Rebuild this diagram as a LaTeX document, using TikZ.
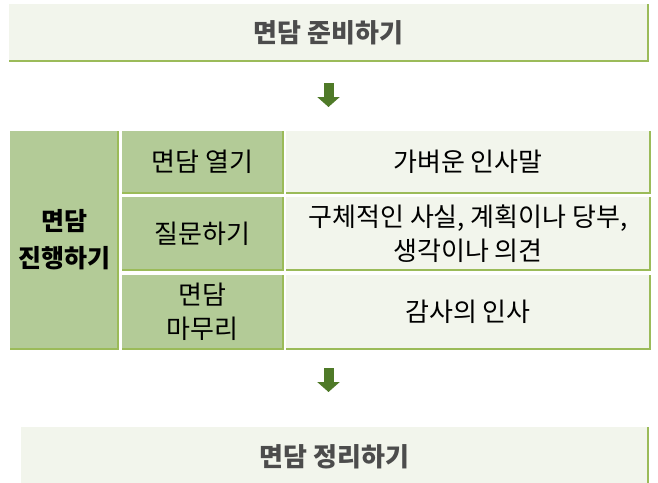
\documentclass[tikz,border=0pt]{standalone}
\usepackage{fontspec}
\setmainfont{Noto Sans CJK KR}
\usetikzlibrary{positioning, arrows.meta}

\definecolor{paleolive}{HTML}{F2F5EC}
\definecolor{midolive}{HTML}{B3CB97}
\definecolor{rimolive}{HTML}{9BBB59}
\definecolor{darkolive}{HTML}{4F7A28}

\begin{document}
\begin{tikzpicture}[x=1pt, y=-1pt,
    every node/.style={inner sep=0pt, outer sep=0pt, align=center,
      font=\fontsize{26}{34}\selectfont},
    stagebox/.style={fill=paleolive, minimum height=57pt, anchor=north west,
      font=\fontsize{26}{34}\selectfont\bfseries, text=black!70},
    midcell/.style={fill=midolive, minimum width=161pt, anchor=north west},
    palecell/.style={fill=paleolive, minimum width=364pt, anchor=north west},
    rim/.style={draw=rimolive, line width=2pt},
    flowarrow/.style={draw=darkolive, line width=10pt,
      -{Triangle[length=10pt, width=22pt]}}]

    \useasboundingbox (0,0) rectangle (658,482);

    % Preparation
    \node [stagebox, minimum width=639pt] (prep) at (9,4) {면담 준비하기};

    % Interview table
    \node [fill=midolive, anchor=north west, minimum width=108pt,
      minimum height=218pt, font=\fontsize{25}{37}\selectfont\bfseries]
      (lead) at (10,131) {면담\\진행하기};
    \node [midcell, minimum height=62pt, right=4pt of lead.north east,
      anchor=north west] (open) {면담 열기};
    \node [midcell, minimum height=73pt, below=4pt of open.south west,
      anchor=north west] (ask) {질문하기};
    \node [midcell, minimum height=74pt, below=5pt of ask.south west,
      anchor=north west] (close) {면담\\마무리};

    \node [palecell, minimum height=62pt, right=3pt of open.north east,
      anchor=north west] (greet) {가벼운 인사말};
    \node [palecell, minimum height=73pt, right=3pt of ask.north east,
      anchor=north west] (facts) {구체적인 사실, 계획이나 당부,\\생각이나 의견};
    \node [palecell, minimum height=74pt, right=3pt of close.north east,
      anchor=north west] (thanks) {감사의 인사};

    % Wrap-up
    \node [stagebox, minimum width=627pt, minimum height=60pt] (wrap)
      at (21,427) {면담 정리하기};

    % Borders
    \foreach \n in {prep, lead, open, ask, close, greet, facts, thanks, wrap}
      \draw [rim] (\n.south west) -- (\n.south east) -- (\n.north east);

    % Arrows
    \coordinate (tabtop) at (prep.south |- lead.north);
    \coordinate (tabbot) at (prep.south |- lead.south);
    \draw [flowarrow, shorten <=22pt, shorten >=24pt] (prep.south) -- (tabtop);
    \draw [flowarrow, shorten <=19pt, shorten >=35pt] (tabbot) -- (tabbot |- wrap.north);

\end{tikzpicture}
\end{document}
